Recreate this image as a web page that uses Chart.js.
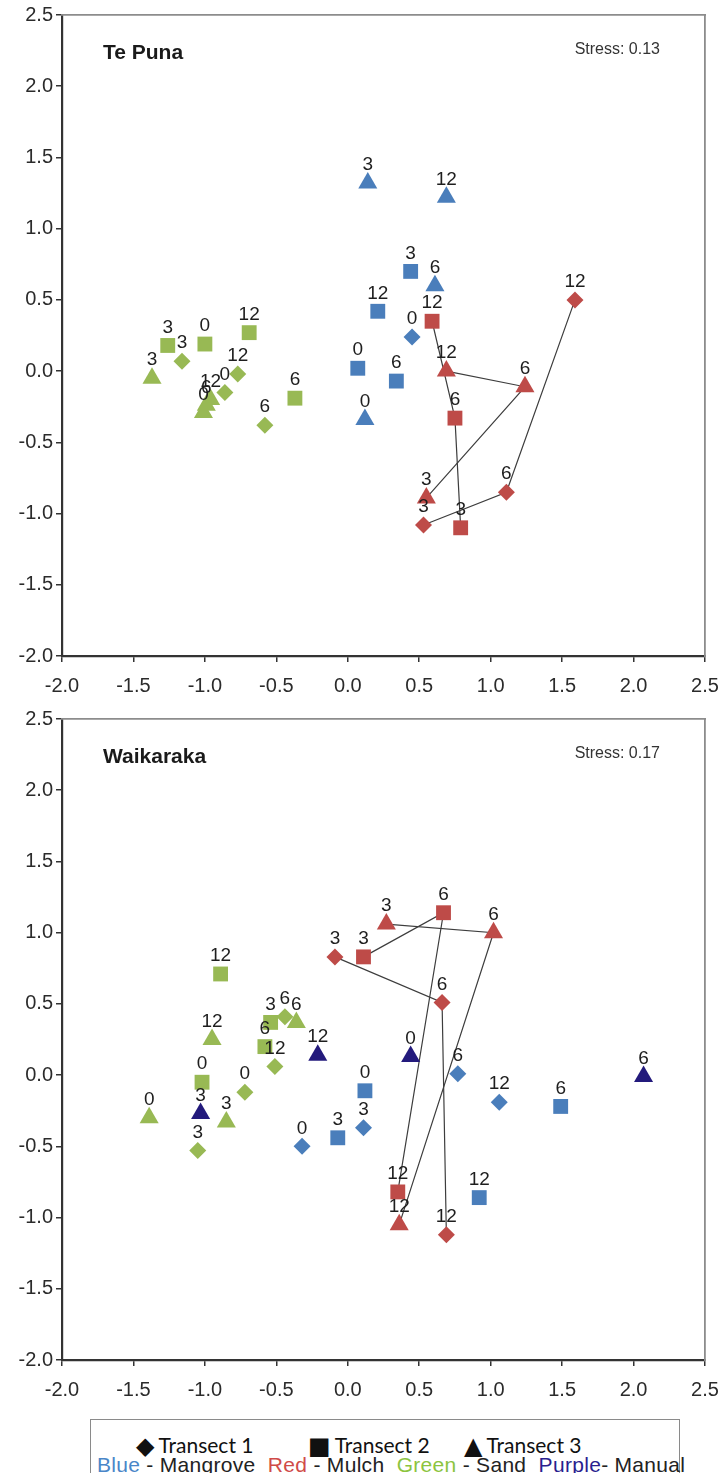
<!DOCTYPE html>
<html>
<head>
<meta charset="utf-8">
<title>NMDS - Te Puna and Waikaraka</title>
<script src="https://cdn.jsdelivr.net/npm/chart.js@4.4.1/dist/chart.umd.min.js"></script>
<style>
  body { margin: 0; width: 719px; height: 1473px; overflow: hidden; background: #fff;
         font-family: "Liberation Sans", Arial, sans-serif; }
  .panel { position: absolute; left: 0; width: 719px; height: 705px; }
  #legend { position: absolute; left: 90px; top: 1419px; width: 588px; height: 80px;
            border: 1px solid #8a8a8a; background: #fff; }
  #legend .item { position: absolute; top: 12px; white-space: nowrap;
                  font-family: Lato, "Open Sans", sans-serif; font-size: 21px; line-height: 26px; color: #111; }
  #legend .item b { font-family: "DejaVu Sans", sans-serif; font-weight: normal; font-size: 24px;
                    line-height: 20px; margin-right: 4px; vertical-align: -1px; }
  #legend .row2 { position: absolute; left: 6px; top: 33px; white-space: nowrap;
                  font-size: 21px; line-height: 24px; color: #222; letter-spacing: 0.3px; }
</style>
</head>
<body>
<div class="panel" style="top:0"><canvas id="tePuna" width="719" height="705"></canvas></div>
<div class="panel" style="top:704px"><canvas id="waikaraka" width="719" height="705"></canvas></div>
<div id="legend">
  <div class="item" style="left:45px"><b>&#9670;</b>Transect 1</div>
  <div class="item" style="left:217px"><b>&#9632;</b>Transect 2</div>
  <div class="item" style="left:373px"><b>&#9650;</b>Transect 3</div>
  <div class="row2">
    <span style="color:#4a86c8">Blue</span> - Mangrove&nbsp;
    <span style="color:#d04b48">Red</span> - Mulch&nbsp;
    <span style="color:#8cc43f">Green</span> - Sand&nbsp;
    <span style="color:#2a1f8f">Purple</span>- Manual
  </div>
</div>
<script>
// axis ticks (both panels, both axes)
const tickValues = [-2.0, -1.5, -1.0, -0.5, 0.0, 0.5, 1.0, 1.5, 2.0, 2.5];

// rows are [month label, x, y]
// Te Puna
const tpMangroveT1 = [['0', 0.45, 0.24]];
const tpMangroveT2 = [['0', 0.07, 0.02], ['3', 0.44, 0.70], ['6', 0.34, -0.07], ['12', 0.21, 0.42]];
const tpMangroveT3 = [['0', 0.12, -0.34], ['3', 0.14, 1.32], ['6', 0.61, 0.60], ['12', 0.69, 1.22]];
const tpMulchT1 = [['3', 0.53, -1.08], ['6', 1.11, -0.85], ['12', 1.59, 0.50]];
const tpMulchT2 = [['3', 0.79, -1.10], ['6', 0.75, -0.33], ['12', 0.59, 0.35]];
const tpMulchT3 = [['3', 0.55, -0.89], ['6', 1.24, -0.11], ['12', 0.69, 0.00]];
const tpSandT1 = [['0', -0.86, -0.15], ['3', -1.16, 0.07], ['6', -0.58, -0.38], ['12', -0.77, -0.02]];
const tpSandT2 = [['0', -1.00, 0.19], ['3', -1.26, 0.18], ['6', -0.37, -0.19], ['12', -0.69, 0.27]];
const tpSandT3 = [['0', -1.01, -0.29], ['3', -1.37, -0.05], ['6', -0.99, -0.24], ['12', -0.96, -0.20]];

// Waikaraka
const wkMangroveT1 = [['0', -0.32, -0.50], ['3', 0.11, -0.37], ['6', 0.77, 0.01], ['12', 1.06, -0.19]];
const wkMangroveT2 = [['0', 0.12, -0.11], ['3', -0.07, -0.44], ['6', 1.49, -0.22], ['12', 0.92, -0.86]];
const wkMulchT1 = [['3', -0.09, 0.83], ['6', 0.66, 0.51], ['12', 0.69, -1.12]];
const wkMulchT2 = [['3', 0.11, 0.83], ['6', 0.67, 1.14], ['12', 0.35, -0.82]];
const wkMulchT3 = [['3', 0.27, 1.06], ['6', 1.02, 1.00], ['12', 0.36, -1.05]];
const wkSandT1 = [['0', -0.72, -0.12], ['3', -1.05, -0.53], ['6', -0.44, 0.41], ['12', -0.51, 0.06]];
const wkSandT2 = [['0', -1.02, -0.05], ['3', -0.54, 0.37], ['6', -0.58, 0.20], ['12', -0.89, 0.71]];
const wkSandT3 = [['0', -1.39, -0.30], ['3', -0.85, -0.33], ['6', -0.36, 0.37], ['12', -0.95, 0.25]];
const wkManualT3 = [['0', 0.44, 0.13], ['3', -1.03, -0.27], ['6', 2.07, -0.01], ['12', -0.21, 0.14]];

const colors = { mangrove: '#4a7ebb', mulch: '#be4b48', sand: '#98b954', manual: '#231a7c' };
const shapes = ['rectRot', 'rect', 'triangle'];
const radii = [8.5, 10.5, 11];
const FONT = '"Liberation Sans", Arial, sans-serif';

function markers(rows, treatment, transect) {
  return {
    data: rows.map(r => ({ x: r[1], y: r[2], t: r[0] })),
    pointStyle: shapes[transect - 1],
    pointRadius: radii[transect - 1],
    pointHoverRadius: radii[transect - 1],
    pointBackgroundColor: colors[treatment],
    pointBorderColor: colors[treatment],
    pointBorderWidth: 0,
    showLine: false,
    order: 1
  };
}

// mulch plots are joined 3 -> 6 -> 12
function track(rows) {
  return {
    data: rows.map(r => ({ x: r[1], y: r[2] })),
    showLine: true,
    pointRadius: 0,
    pointHoverRadius: 0,
    borderColor: '#3d3d3d',
    borderWidth: 1.2,
    noLabels: true,
    order: 2
  };
}

const pointLabels = {
  id: 'pointLabels',
  afterDatasetsDraw(chart) {
    const ctx = chart.ctx;
    ctx.save();
    ctx.font = '19px ' + FONT;
    ctx.fillStyle = '#1e1e1e';
    ctx.textAlign = 'center';
    ctx.textBaseline = 'middle';
    chart.data.datasets.forEach((ds, i) => {
      if (ds.noLabels) return;
      chart.getDatasetMeta(i).data.forEach((el, j) => {
        ctx.fillText(ds.data[j].t, el.x, el.y - 18);
      });
    });
    ctx.restore();
  }
};

const panelText = {
  id: 'panelText',
  afterDraw(chart) {
    const opts = chart.options.plugins.panelText;
    const a = chart.chartArea;
    const ctx = chart.ctx;
    ctx.save();
    ctx.textBaseline = 'middle';
    ctx.fillStyle = '#1a1a1a';
    ctx.font = 'bold 21px ' + FONT;
    ctx.textAlign = 'left';
    ctx.fillText(opts.site, a.left + 41, a.top + 38);
    ctx.fillStyle = '#333';
    ctx.font = '16px ' + FONT;
    ctx.textAlign = 'right';
    ctx.fillText(opts.stress, a.right - 45, a.top + 35);
    ctx.restore();
  }
};

function axisOpts(position) {
  const horizontal = position === 'bottom';
  return {
    type: 'linear',
    position: position,
    min: -2,
    max: 2.5,
    afterBuildTicks: s => { s.ticks = tickValues.map(v => ({ value: v })); },
    afterFit: s => {
      if (horizontal) { s.height = 49; s.paddingLeft = 0; s.paddingRight = 0; }
      else { s.width = 62; }
    },
    ticks: {
      callback: v => v.toFixed(1),
      font: { size: 20, family: FONT },
      color: '#2b2b2b',
      padding: horizontal ? 12 : 3,
      maxRotation: 0,
      autoSkip: false
    },
    grid: { display: true, drawOnChartArea: false, drawTicks: true, tickLength: 6, color: '#333', lineWidth: 1.5 },
    border: { color: '#333', width: 2.2 }
  };
}

function frameOpts(position) {
  const horizontal = position === 'top';
  return {
    type: 'linear',
    position: position,
    min: -2,
    max: 2.5,
    display: true,
    ticks: { display: false },
    grid: { display: false },
    border: { color: '#8c8c8c', width: 1.8 },
    afterFit: s => { if (horizontal) s.height = 0; else s.width = 0; }
  };
}

function makeChart(id, datasets, site, stress) {
  return new Chart(document.getElementById(id), {
    type: 'scatter',
    data: { datasets: datasets },
    options: {
      responsive: false,
      animation: false,
      layout: { padding: { top: 15, right: 14, left: 0, bottom: 0 } },
      scales: {
        x: axisOpts('bottom'),
        y: axisOpts('left'),
        x2: frameOpts('top'),
        y2: frameOpts('right')
      },
      plugins: {
        legend: { display: false },
        tooltip: { enabled: false },
        panelText: { site: site, stress: stress }
      }
    },
    plugins: [pointLabels, panelText]
  });
}

makeChart('tePuna', [
  markers(tpMangroveT1, 'mangrove', 1),
  markers(tpMangroveT2, 'mangrove', 2),
  markers(tpMangroveT3, 'mangrove', 3),
  markers(tpMulchT1, 'mulch', 1),
  markers(tpMulchT2, 'mulch', 2),
  markers(tpMulchT3, 'mulch', 3),
  markers(tpSandT1, 'sand', 1),
  markers(tpSandT2, 'sand', 2),
  markers(tpSandT3, 'sand', 3),
  track(tpMulchT1),
  track(tpMulchT2),
  track(tpMulchT3)
], 'Te Puna', 'Stress: 0.13');

makeChart('waikaraka', [
  markers(wkMangroveT1, 'mangrove', 1),
  markers(wkMangroveT2, 'mangrove', 2),
  markers(wkMulchT1, 'mulch', 1),
  markers(wkMulchT2, 'mulch', 2),
  markers(wkMulchT3, 'mulch', 3),
  markers(wkSandT1, 'sand', 1),
  markers(wkSandT2, 'sand', 2),
  markers(wkSandT3, 'sand', 3),
  markers(wkManualT3, 'manual', 3),
  track(wkMulchT1),
  track(wkMulchT2),
  track(wkMulchT3)
], 'Waikaraka', 'Stress: 0.17');
</script>
</body>
</html>
